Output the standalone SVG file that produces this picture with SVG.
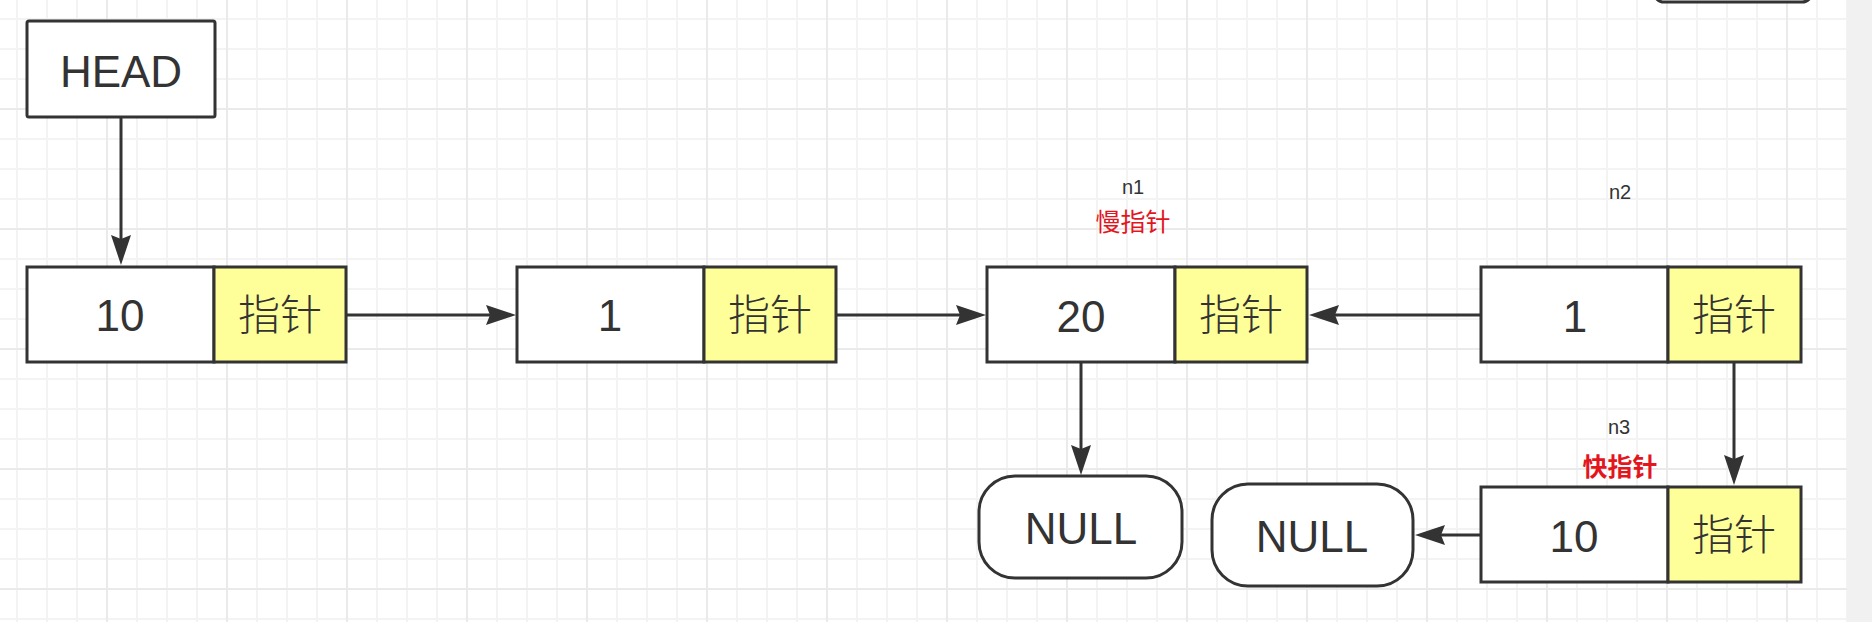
<svg xmlns="http://www.w3.org/2000/svg" width="1872" height="622" viewBox="0 0 1872 622">
  <style>
    .box { fill: #ffffff; stroke: #333333; stroke-width: 3; }
    .ptr { fill: #ffff99; stroke: #333333; stroke-width: 3; }
    .term { fill: #ffffff; stroke: #333333; stroke-width: 3; }
    .edge { stroke: #333333; stroke-width: 3; fill: none; marker-end: url(#arrow); }
    .big { font-family: "Liberation Sans", Arial, sans-serif; font-size: 44px; fill: #333333; text-anchor: middle; }
    .cjk { font-family: "Noto Sans CJK SC", sans-serif; font-size: 42px; font-weight: 300; fill: #333333; text-anchor: middle; }
    .lbl { font-family: "Liberation Sans", Arial, sans-serif; font-size: 20px; fill: #333333; text-anchor: middle; }
    .red { font-family: "Noto Sans CJK SC", sans-serif; font-size: 25px; fill: #e3161e; text-anchor: middle; }
  </style>
  <defs>
    <pattern id="grid" patternUnits="userSpaceOnUse" x="92" y="94" width="120" height="120">
      <path d="M45 0V120M75 0V120M105 0V120M0 45H120M0 75H120M0 105H120" stroke="#f3f3f3" stroke-width="2" fill="none"/>
      <path d="M15 0V120M0 15H120" stroke="#eaeaea" stroke-width="2" fill="none"/>
    </pattern>
    <marker id="arrow" viewBox="0 0 30 20" markerWidth="30" markerHeight="20" markerUnits="userSpaceOnUse" refX="20" refY="10" orient="auto">
      <path d="M0,0 L30,10 L0,20 L4,10 Z" fill="#333333"/>
    </marker>
  </defs>

  <rect x="0" y="0" width="1872" height="622" fill="#ffffff"/>
  <rect x="0" y="0" width="1847" height="622" fill="url(#grid)"/>
  <rect x="1847" y="0" width="25" height="622" fill="#f1f1f1"/>
  <rect x="1654" y="-30" width="158" height="32" rx="10" fill="#ffffff" stroke="#333333" stroke-width="3"/>

  <g id="connectors">
    <line class="edge" x1="121" y1="117" x2="121" y2="255"/>
    <line class="edge" x1="346" y1="315" x2="506" y2="315"/>
    <line class="edge" x1="836" y1="315" x2="976" y2="315"/>
    <line class="edge" x1="1481" y1="315" x2="1319" y2="315"/>
    <line class="edge" x1="1081" y1="362" x2="1081" y2="465"/>
    <line class="edge" x1="1734" y1="362" x2="1734" y2="475"/>
    <line class="edge" x1="1481" y1="535" x2="1425" y2="535"/>
  </g>

  <g id="head">
    <rect class="box" x="27" y="21" width="188" height="96" rx="2"/>
    <text class="big" x="121" y="87" font-size="43">HEAD</text>
  </g>

  <g id="node1">
    <rect class="box" x="27" y="267" width="187" height="95"/>
    <rect class="ptr" x="214" y="267" width="132" height="95"/>
    <text class="big" x="120" y="331">10</text>
    <text class="cjk" x="280" y="330">指针</text>
  </g>

  <g id="node2">
    <rect class="box" x="517" y="267" width="187" height="95"/>
    <rect class="ptr" x="704" y="267" width="132" height="95"/>
    <text class="big" x="610" y="331">1</text>
    <text class="cjk" x="770" y="330">指针</text>
  </g>

  <g id="node3">
    <rect class="box" x="987" y="267" width="188" height="95"/>
    <rect class="ptr" x="1175" y="267" width="132" height="95"/>
    <text class="big" x="1081" y="332">20</text>
    <text class="cjk" x="1241" y="330">指针</text>
    <text class="lbl" x="1133" y="194">n1</text>
    <text class="red" x="1133" y="231">慢指针</text>
  </g>

  <g id="node4">
    <rect class="box" x="1481" y="267" width="187" height="95"/>
    <rect class="ptr" x="1668" y="267" width="133" height="95"/>
    <text class="big" x="1575" y="332">1</text>
    <text class="cjk" x="1734" y="330">指针</text>
    <text class="lbl" x="1620" y="199">n2</text>
  </g>

  <g id="node5">
    <rect class="box" x="1481" y="487" width="187" height="95"/>
    <rect class="ptr" x="1668" y="487" width="133" height="95"/>
    <text class="big" x="1574" y="552">10</text>
    <text class="cjk" x="1734" y="550">指针</text>
    <text class="lbl" x="1619" y="434">n3</text>
    <text class="red" x="1620" y="476" font-weight="bold">快指针</text>
  </g>

  <g id="null1">
    <rect class="term" x="979" y="476" width="203" height="102" rx="36"/>
    <text class="big" x="1081" y="544">NULL</text>
  </g>

  <g id="null2">
    <rect class="term" x="1212" y="484" width="201" height="102" rx="36"/>
    <text class="big" x="1312" y="552">NULL</text>
  </g>
</svg>
